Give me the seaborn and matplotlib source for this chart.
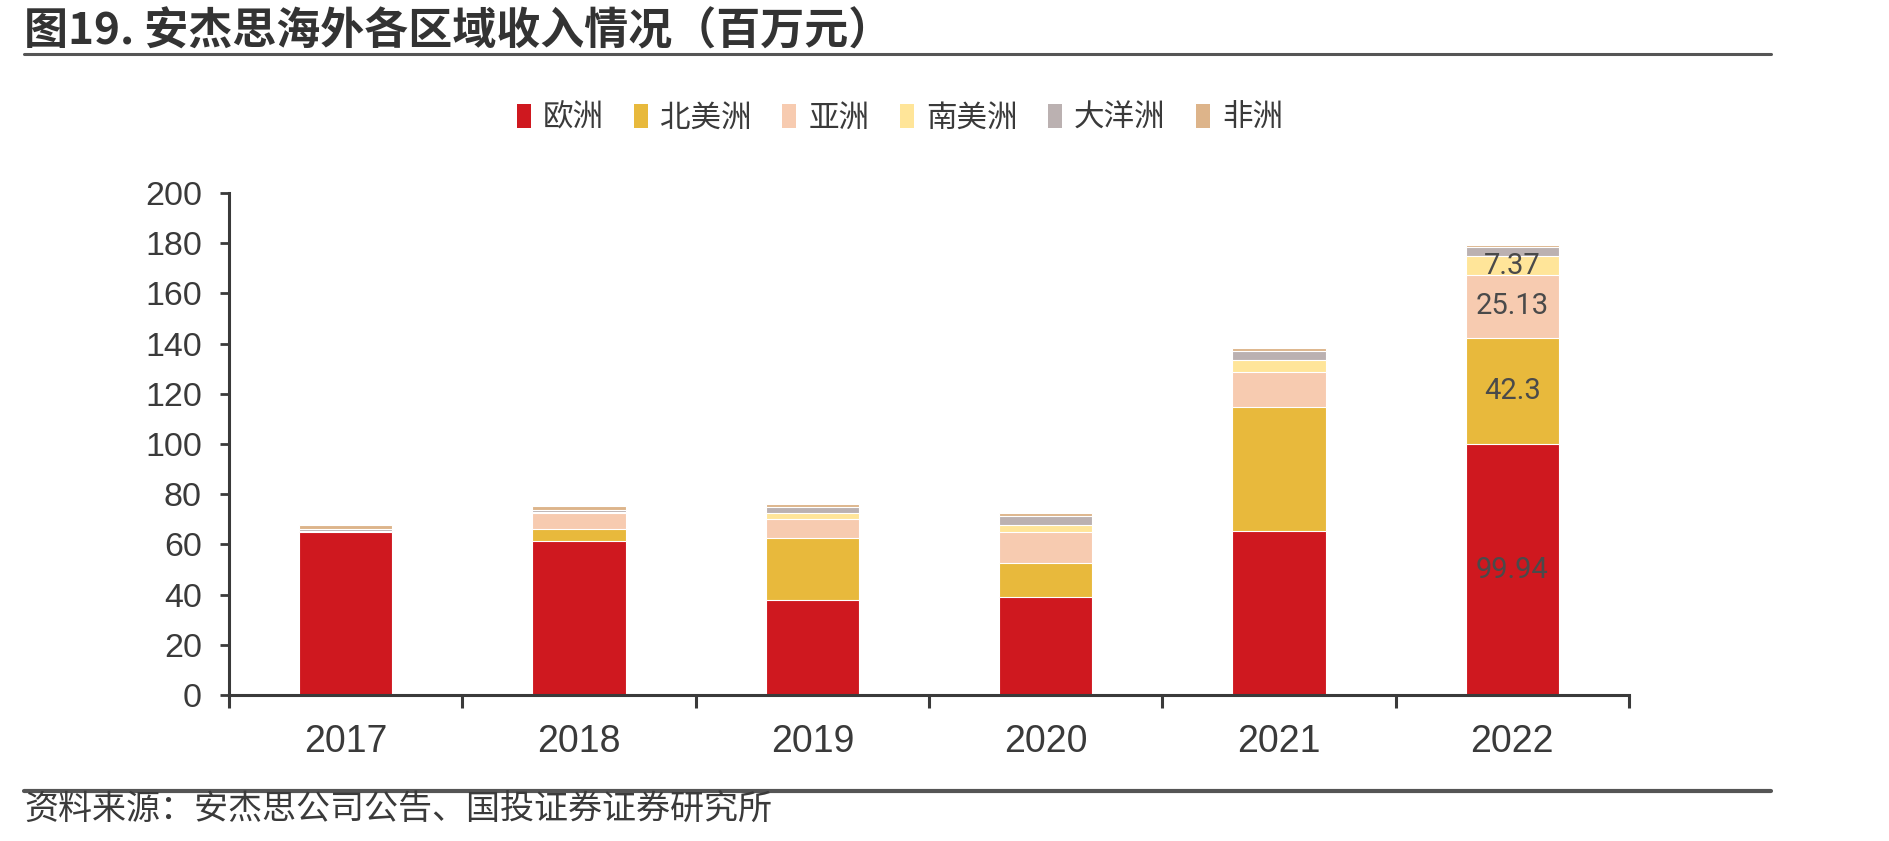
import numpy as np
import pandas as pd
import matplotlib
matplotlib.use('Agg')
import matplotlib.pyplot as plt
from matplotlib.patches import Rectangle
from matplotlib.lines import Line2D
import seaborn as sns

# values (百万元)
years = ['2017', '2018', '2019', '2020', '2021', '2022']
regions = ['欧洲', '北美洲', '亚洲', '南美洲', '大洋洲', '非洲']
europe = [64.9, 61.4, 37.8, 39.1, 65.2, 99.94]
north_america = [0.0, 4.7, 24.7, 13.5, 49.4, 42.3]
asia = [0.2, 6.4, 7.5, 12.3, 13.9, 25.13]
south_america = [0.2, 0.3, 2.5, 2.7, 5.0, 7.37]
oceania = [0.9, 1.0, 2.5, 3.8, 3.7, 3.6]
africa = [1.6, 1.3, 1.2, 1.2, 1.2, 1.1]
colors = ['#CF181F', '#E8B93C', '#F7CBB0', '#FFE599', '#BBB1B1', '#DDB48A']

series = [europe, north_america, asia, south_america, oceania, africa]

sns.set_style('white')
plt.rcParams['font.family'] = ['Liberation Sans', 'Noto Sans CJK SC', 'DejaVu Sans']
cjk = ['Noto Sans CJK SC', 'DejaVu Sans']
grey = '#3a3a3a'

df = pd.DataFrame({'year': years})
bottom = np.zeros(len(years))
cums = []
for name, vals in zip(regions, series):
    top = bottom + np.array(vals)
    cums.append((bottom.copy(), top.copy()))
    df[name] = top
    bottom = top

fig = plt.figure(figsize=(18.89, 8.41), dpi=100)
ax = fig.add_axes([229 / 1889, 1 - 695 / 841, 1400 / 1889, 502 / 841])

# stacked bars: draw cumulative totals from the top layer down
for name, c in reversed(list(zip(regions, colors))):
    sns.barplot(data=df, x='year', y=name, color=c, width=0.4, ax=ax,
                edgecolor='white', linewidth=0.8, saturation=1)

# labels for 2022
last = len(years) - 1
for i in [0, 1, 2, 3]:
    b, t = cums[i]
    val = series[i][last]
    ax.text(last, (b[last] + t[last]) / 2, f'{val:g}', ha='center', va='center',
            fontsize=21, color='#4a4a4a', family=['Roboto', 'DejaVu Sans'])

ax.set_ylim(0, 200)
ax.set_xlim(-0.5, len(years) - 0.5)
ax.set_yticks(np.arange(0, 201, 20))
ax.set_xticks(range(len(years)))
ax.set_xticklabels(years)
ax.set_xticks(np.arange(-0.5, len(years), 1), minor=True)
ax.set_xlabel('')
ax.set_ylabel('')
for s in ['top', 'right']:
    ax.spines[s].set_visible(False)
for s in ['left', 'bottom']:
    ax.spines[s].set_color(grey)
    ax.spines[s].set_linewidth(2.2)
ax.tick_params(axis='y', direction='out', length=6.5, width=2, color=grey,
               labelsize=24.5, labelcolor=grey, pad=13, left=True)
ax.tick_params(axis='x', which='major', length=0, labelsize=27, labelcolor=grey, pad=21)
ax.tick_params(axis='x', which='minor', direction='out', length=9, width=2.2,
               color=grey, bottom=True)

handles = [Rectangle((0, 0), 1, 1, facecolor=c, edgecolor='none') for c in colors]
leg = fig.legend(handles, regions, loc='center', bbox_to_anchor=(0.4764, 1 - 118 / 841),
                 ncol=6, frameon=False, prop={'family': cjk, 'size': 22, 'weight': 'medium'},
                 handlelength=0.45, handleheight=0.86, handletextpad=0.4,
                 columnspacing=1.0)
for t in leg.get_texts():
    t.set_color(grey)

fig.text(24 / 1889, 1 - 31 / 841, '图19. 安杰思海外各区域收入情况（百万元）', ha='left', va='center',
         fontsize=31.7, fontweight='bold', color='#333333', family=cjk)
fig.add_artist(Line2D([24 / 1889, 1771 / 1889], [1 - 54 / 841] * 2, color='#555555', lw=2.2))
fig.add_artist(Line2D([24 / 1889, 1771 / 1889], [1 - 791 / 841] * 2, color='#555555', lw=3))
fig.text(24 / 1889, 1 - 810 / 841, '资料来源：安杰思公司公告、国投证券证券研究所', ha='left', va='center',
         fontsize=24.5, color=grey, family=cjk)

fig.savefig('out.png', dpi=100)
